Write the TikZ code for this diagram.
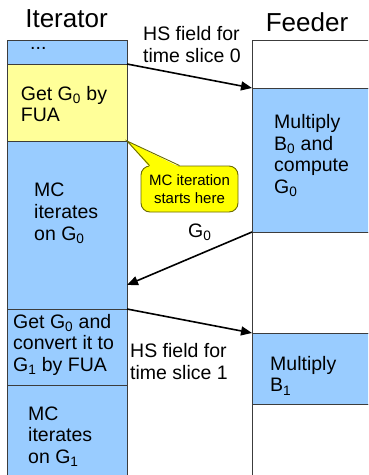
\documentclass[tikz,border=0pt]{standalone}
\usepackage{fontspec}
\setmainfont{Liberation Sans}
\usetikzlibrary{arrows.meta}
\definecolor{boxblue}{HTML}{99CCFF}
\definecolor{boxyellow}{HTML}{FFFF99}
\definecolor{callyellow}{HTML}{FFFF00}
\definecolor{edgegray}{HTML}{3C3C3C}
\definecolor{calledgecol}{HTML}{6B6B00}
\begin{document}
\begin{tikzpicture}[x=1pt,y=-1pt,
  cellbox/.style={draw=edgegray, line width=0.9pt, inner sep=0pt, outer sep=0pt, anchor=north west},
  itbox/.style={cellbox, minimum width=120pt},
  fdbox/.style={cellbox, minimum width=130pt},
  txt/.style={font=\fontsize{19.5}{21.7}\selectfont, align=left, anchor=north west, inner sep=0pt},
  lbl/.style={font=\fontsize{19.5}{22.8}\selectfont, align=left, anchor=north west, inner sep=0pt},
  title/.style={font=\fontsize{26}{30}\selectfont, anchor=base, inner sep=0pt},
  flow/.style={line width=1.6pt, -{Triangle[length=11pt,width=9pt]}},
  callbody/.style={fill=callyellow, draw=calledgecol, line width=0.9pt, rounded corners=9pt, inner sep=0pt, align=center, font=\fontsize{15}{18}\selectfont},
  calledge/.style={draw=calledgecol, line width=0.9pt, line join=miter}]
\useasboundingbox (0,0) rectangle (368,475);
\clip (0,0) rectangle (368,475);
\fill[white] (0,0) rectangle (368,475);
% titles
\node[title] (ttit) at (66.5,27) {Iterator};
\node[title] (tfeed) at (307,31.7) {Feeder};
% iterator column
\node[itbox, fill=boxblue, minimum height=24pt] (itdots) at (7,40) {};
\node[itbox, fill=boxyellow, minimum height=77pt] (itget0) at (7,64) {};
\node[itbox, fill=boxblue, minimum height=168pt] (itmc0) at (7,141) {};
\node[itbox, fill=boxblue, minimum height=76pt] (itconv) at (7,309) {};
\node[itbox, fill=boxblue, minimum height=100pt] (itmc1) at (7,385) {};
% feeder column
\node[fdbox, fill=white, minimum height=48pt] (fw0) at (252,40) {};
\node[fdbox, fill=boxblue, minimum height=144pt] (fb0) at (252,88) {};
\node[fdbox, fill=white, minimum height=101pt] (fw1) at (252,232) {};
\node[fdbox, fill=boxblue, minimum height=71pt] (fb1) at (252,333) {};
\node[fdbox, fill=white, minimum height=80pt] (fw2) at (252,404) {};
% texts
\node[txt, anchor=base west] (tdots) at (30,49.5) {...};
\node[txt] (tget0) at (20.7,84.8) {\strut Get G\textsubscript{0} by\\FUA};
\node[txt] (tmc0) at (34,181.5) {\strut MC\\iterates\\on G\textsubscript{0}};
\node[txt] (tconv) at (13,312.8) {\strut Get G\textsubscript{0} and\\convert it to\\G\textsubscript{1} by FUA};
\node[txt] (tmc1) at (28,404.8) {\strut MC\\iterates\\on G\textsubscript{1}};
\node[txt] (tmulb0) at (274,113.1) {\strut Multiply\\B\textsubscript{0} and\\compute\\G\textsubscript{0}};
\node[txt] (tmulb1) at (270,354.8) {\strut Multiply\\B\textsubscript{1}};
\node[lbl] (ths0) at (143,24.0) {\strut HS field for\\time slice 0};
\node[lbl] (ths1) at (130,341.0) {\strut HS field for\\time slice 1};
\node[txt, anchor=base west] (tg0) at (188,237) {G\textsubscript{0}};
% callout
\node[callbody, minimum width=97pt, minimum height=46pt] (call) at (189.5,189) {MC iteration\\starts here};
\fill[callyellow] (itget0.south east) -- ([xshift=9pt,yshift=-1.5pt]call.north west) -- ([xshift=39pt,yshift=-1.5pt]call.north west) -- cycle;
\draw[calledge] ([xshift=9pt]call.north west) -- (itget0.south east) -- ([xshift=39pt]call.north west);
% connectors
\coordinate (g0in) at (127,285);
\draw[flow] (itget0.north east) -- (fb0.north west);
\draw[flow] (fb0.south west) -- (g0in);
\draw[flow] (itconv.north east) -- (fb1.north west);
\end{tikzpicture}
\end{document}
